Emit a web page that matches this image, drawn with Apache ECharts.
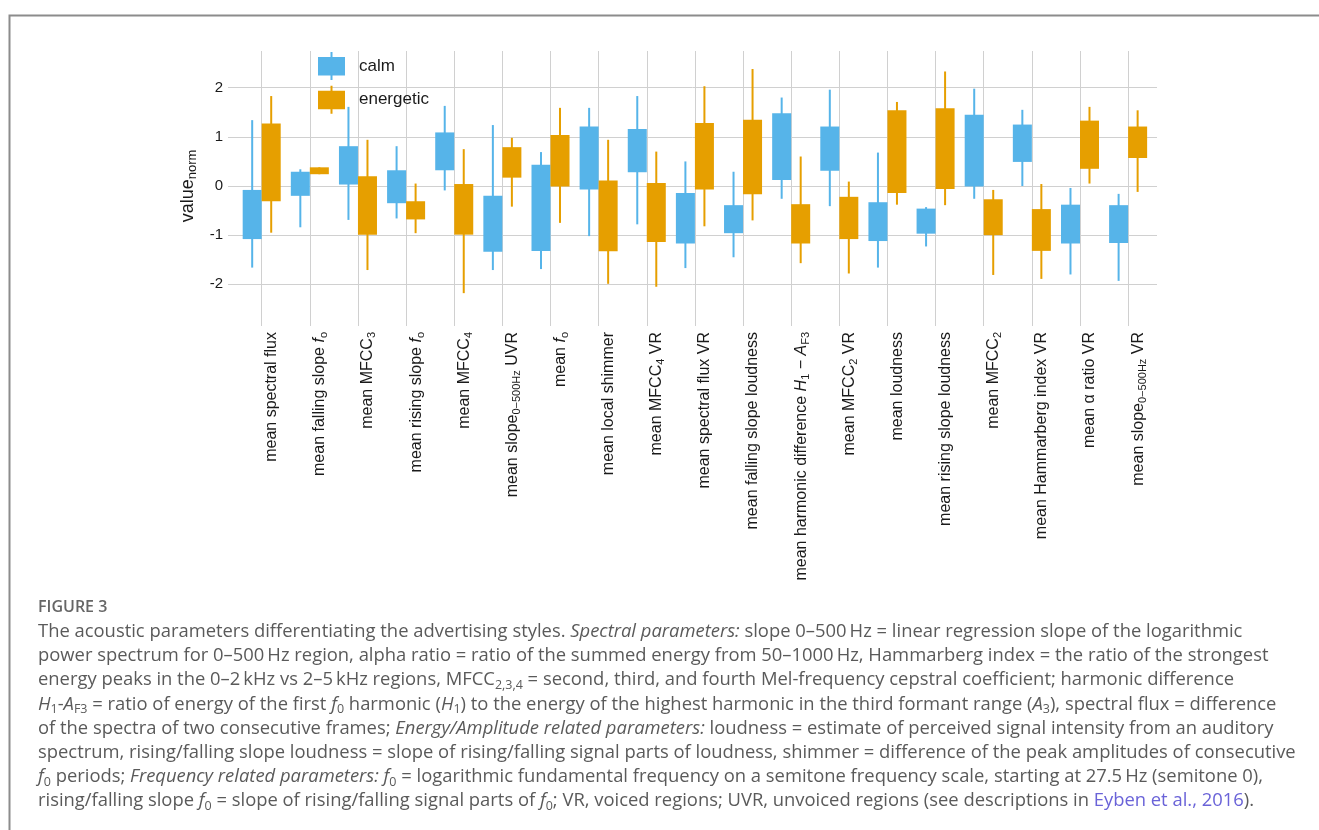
<!DOCTYPE html>
<html>
<head>
<meta charset="utf-8">
<style>
  html, body { margin: 0; padding: 0; background: #ffffff; }
  #chart { width: 1319px; height: 830px; }
</style>
<script src="https://cdn.jsdelivr.net/npm/echarts@6/dist/echarts.min.js"></script>
</head>
<body>
<div id="chart"></div>
<script>
// Acoustic parameters (normalised) for two advertising speaking styles.
// Each style: whisker low, box low, box high, whisker high per parameter.
const categories = [
  'mean spectral flux',
  'mean falling slope {it|f}{sub|o}',
  'mean MFCC{sub|3}',
  'mean rising slope {it|f}{sub|o}',
  'mean MFCC{sub|4}',
  'mean slope{sub|0\u2212500Hz} UVR',
  'mean {it|f}{sub|o}',
  'mean local shimmer',
  'mean MFCC{sub|4} VR',
  'mean spectral flux VR',
  'mean falling slope loudness',
  'mean harmonic difference {it|H}{sub|1} \u2212 {it|A}{sub|F3}',
  'mean MFCC{sub|2} VR',
  'mean loudness',
  'mean rising slope loudness',
  'mean MFCC{sub|2}',
  'mean Hammarberg index VR',
  'mean \u03b1 ratio VR',
  'mean slope{sub|0\u2212500Hz} VR'
];

const calmLow  = [-1.66, -0.84, -0.69, -0.66, -0.09, -1.71, -1.69, -1.02, -0.78, -1.67, -1.45, -0.26, -0.41, -1.66, -1.23, -0.26, 0.00, -1.80, -1.93];
const calmQ1   = [-1.08, -0.20,  0.03, -0.35,  0.32, -1.34, -1.32, -0.07,  0.28, -1.17, -0.96,  0.12,  0.31, -1.12, -0.97, -0.01, 0.49, -1.17, -1.16];
const calmQ3   = [-0.08,  0.29,  0.81,  0.32,  1.09, -0.20,  0.43,  1.21,  1.16, -0.14, -0.39,  1.48,  1.21, -0.33, -0.46,  1.45, 1.25, -0.38, -0.39];
const calmHigh = [ 1.34,  0.34,  1.61,  0.81,  1.63,  1.24,  0.69,  1.59,  1.83,  0.50,  0.29,  1.80,  1.96,  0.68, -0.43,  1.98, 1.55, -0.04, -0.16];

const enerLow  = [-0.95,  0.24, -1.71, -0.96, -2.18, -0.42, -0.75, -1.99, -2.05, -0.82, -0.70, -1.57, -1.78, -0.38, -0.39, -1.81, -1.89, 0.05, -0.12];
const enerQ1   = [-0.31,  0.24, -0.99, -0.68, -0.99,  0.17, -0.01, -1.33, -1.14, -0.07, -0.17, -1.17, -1.08, -0.14, -0.06, -1.00, -1.32, 0.35,  0.57];
const enerQ3   = [ 1.27,  0.38,  0.20, -0.31,  0.04,  0.79,  1.04,  0.11,  0.06,  1.28,  1.35, -0.37, -0.22,  1.54,  1.58, -0.27, -0.47, 1.33,  1.21];
const enerHigh = [ 1.83,  0.38,  0.94,  0.05,  0.75,  0.98,  1.59,  0.94,  0.70,  2.03,  2.38,  0.60,  0.09,  1.71,  2.33, -0.08,  0.04, 1.61,  1.54];

const yTicks = ['-2', '-1', '0', '1', '2'];

const CALM = '#56B4E9';
const ENER = '#E69F00';
const TEXT = '#1a1a1a';
const GRIDLINE = '#d0d0d0';
const FONT = '"Liberation Sans", Arial, Helvetica, sans-serif';

function rows(lo, q1, q3, hi) {
  return categories.map((_, i) => [i, lo[i], q1[i], q3[i], hi[i]]);
}

// Box + whisker glyph; side -1 puts the box left of the category centre, +1 right.
function boxRenderer(side) {
  return function (params, api) {
    const i = api.value(0);
    const lo = api.value(1), q1 = api.value(2), q3 = api.value(3), hi = api.value(4);
    const centre = api.coord([i, 0])[0];
    const band = api.size([1, 0])[0];
    const w = band * 0.395;
    const cx = centre + side * w / 2;
    const yHi = api.coord([i, hi])[1];
    const yLo = api.coord([i, lo])[1];
    const yTop = api.coord([i, q3])[1];
    const yBot = api.coord([i, q1])[1];
    const color = api.visual('color');
    return {
      type: 'group',
      children: [
        { type: 'line', shape: { x1: cx, y1: yHi, x2: cx, y2: yLo },
          style: { stroke: color, lineWidth: 2 } },
        { type: 'rect', shape: { x: cx - w / 2, y: yTop, width: w, height: Math.max(yBot - yTop, 1) },
          style: { fill: color } }
      ]
    };
  };
}

const legendIcon = 'path://M0,5 H27 V23.5 H0 Z M12.5,0 H14.5 V5 H12.5 Z M12.5,23.5 H14.5 V28 H12.5 Z';

const subStyle = { fontSize: 11, lineHeight: 11, verticalAlign: 'bottom', fontFamily: FONT, color: TEXT };
const itStyle = { fontStyle: 'italic', fontSize: 16, fontFamily: FONT, color: TEXT };

// Figure caption, one entry per printed line.
const captionLines = [
  'The acoustic parameters differentiating the advertising styles. {it|Spectral parameters:} slope 0\u2013500\u2009Hz = linear regression slope of the logarithmic',
  'power spectrum for 0\u2013500\u2009Hz region, alpha ratio = ratio of the summed energy from 50\u20131000\u2009Hz, Hammarberg index = the ratio of the strongest',
  'energy peaks in the 0\u20132\u2009kHz vs 2\u20135\u2009kHz regions, MFCC{sub|2,3,4} = second, third, and fourth Mel-frequency cepstral coefficient; harmonic difference',
  '{it|H}{sub|1}-{it|A}{sub|F3} = ratio of energy of the first {it|f}{sub|0} harmonic ({it|H}{sub|1}) to the energy of the highest harmonic in the third formant range ({it|A}{sub|3}), spectral flux = difference',
  'of the spectra of two consecutive frames; {it|Energy/Amplitude related parameters:} loudness = estimate of perceived signal intensity from an auditory',
  'spectrum, rising/falling slope loudness = slope of rising/falling signal parts of loudness, shimmer = difference of the peak amplitudes of consecutive',
  '{it|f}{sub|0} periods; {it|Frequency related parameters:} {it|f}{sub|0} = logarithmic fundamental frequency on a semitone frequency scale, starting at 27.5\u2009Hz (semitone 0),',
  'rising/falling slope {it|f}{sub|0} = slope of rising/falling signal parts of {it|f}{sub|0}; VR, voiced regions; UVR, unvoiced regions (see descriptions in {link|Eyben et al., 2016}).'
];

const CAP_FONT = '"Open Sans", Lato, sans-serif';
const CAP_COLOR = '#5a5a5a';
const CAP_SIZE = 18.4;
const capRich = {
  it: { fontStyle: 'italic', fontSize: CAP_SIZE, fontFamily: CAP_FONT, fill: CAP_COLOR },
  sub: { fontSize: 12.5, lineHeight: 12.5, verticalAlign: 'bottom', fontFamily: CAP_FONT, fill: CAP_COLOR },
  link: { fontSize: CAP_SIZE, fontFamily: CAP_FONT, fill: '#6a63d8' }
};

const graphics = [
  { type: 'rect', left: 7, top: 13, silent: true,
    shape: { x: 0, y: 0, width: 1400, height: 1000 },
    style: { fill: 'none', stroke: '#8c8c8c', lineWidth: 2 } },
  { type: 'text', x: 38, y: 607,
    style: { text: 'FIGURE 3', fontFamily: CAP_FONT, fontSize: 16, fontWeight: 600,
             fill: '#666666', verticalAlign: 'middle' } }
];
captionLines.forEach((line, k) => {
  graphics.push({
    type: 'text', x: 38, y: 620 + k * 24.1,
    style: { text: line, rich: capRich, fontFamily: CAP_FONT, fontSize: CAP_SIZE, lineHeight: 24,
             fill: CAP_COLOR, verticalAlign: 'top' }
  });
});

const chart = echarts.init(document.getElementById('chart'), null, { renderer: 'canvas' });
chart.setOption({
  backgroundColor: '#ffffff',
  animation: false,
  textStyle: { fontFamily: FONT },
  grid: [
    // plotting panel (value scales)
    { left: 228, width: 929, top: 38.55, height: 294.9 },
    // category ruler: vertical rules and parameter names
    { left: 261.7, width: 866.4, top: 51, height: 275 }
  ],
  xAxis: [
    { type: 'value', gridIndex: 0, min: -0.7, max: 18.6, show: false },
    { type: 'category', gridIndex: 1, data: categories, boundaryGap: false,
      axisLine: { show: false }, axisTick: { show: false },
      splitLine: { show: true, lineStyle: { color: GRIDLINE, width: 1 } },
      axisLabel: {
        interval: 0, rotate: 90, margin: 6, fontSize: 16, lineHeight: 20, color: TEXT, fontFamily: FONT,
        verticalAlign: 'top',
        rich: { sub: subStyle, it: itStyle }
      } }
  ],
  yAxis: [
    { type: 'value', gridIndex: 0, min: -3, max: 3, interval: 1,
      axisLine: { show: false }, axisTick: { show: false },
      axisLabel: { margin: 5, fontSize: 15, color: TEXT, fontFamily: FONT,
        formatter: v => (yTicks.indexOf(String(v)) >= 0 ? String(v) : '') },
      splitLine: { show: true, showMinLine: false, showMaxLine: false,
        lineStyle: { color: GRIDLINE, width: 1 } },
      name: 'value{sub|norm}', nameLocation: 'middle', nameRotate: 90, nameGap: 20,
      nameTextStyle: { fontSize: 18, color: TEXT, fontFamily: FONT, lineHeight: 22,
        rich: { sub: { fontSize: 13, lineHeight: 13, verticalAlign: 'bottom', color: TEXT, fontFamily: FONT } } } },
    { type: 'value', gridIndex: 1, show: false }
  ],
  legend: {
    orient: 'vertical', left: 318, top: 52, padding: 0,
    itemWidth: 27, itemHeight: 28, itemGap: 5.7,
    textStyle: { fontSize: 17, color: TEXT, fontFamily: FONT, padding: [0, 0, 0, 9] },
    data: [ { name: 'calm', icon: legendIcon }, { name: 'energetic', icon: legendIcon } ]
  },
  series: [
    { name: 'calm', type: 'custom', xAxisIndex: 0, yAxisIndex: 0,
      itemStyle: { color: CALM }, renderItem: boxRenderer(-1),
      encode: { x: 0, y: [1, 2, 3, 4] }, data: rows(calmLow, calmQ1, calmQ3, calmHigh), z: 3 },
    { name: 'energetic', type: 'custom', xAxisIndex: 0, yAxisIndex: 0,
      itemStyle: { color: ENER }, renderItem: boxRenderer(1),
      encode: { x: 0, y: [1, 2, 3, 4] }, data: rows(enerLow, enerQ1, enerQ3, enerHigh), z: 3 }
  ],
  graphic: graphics
});
</script>
</body>
</html>
